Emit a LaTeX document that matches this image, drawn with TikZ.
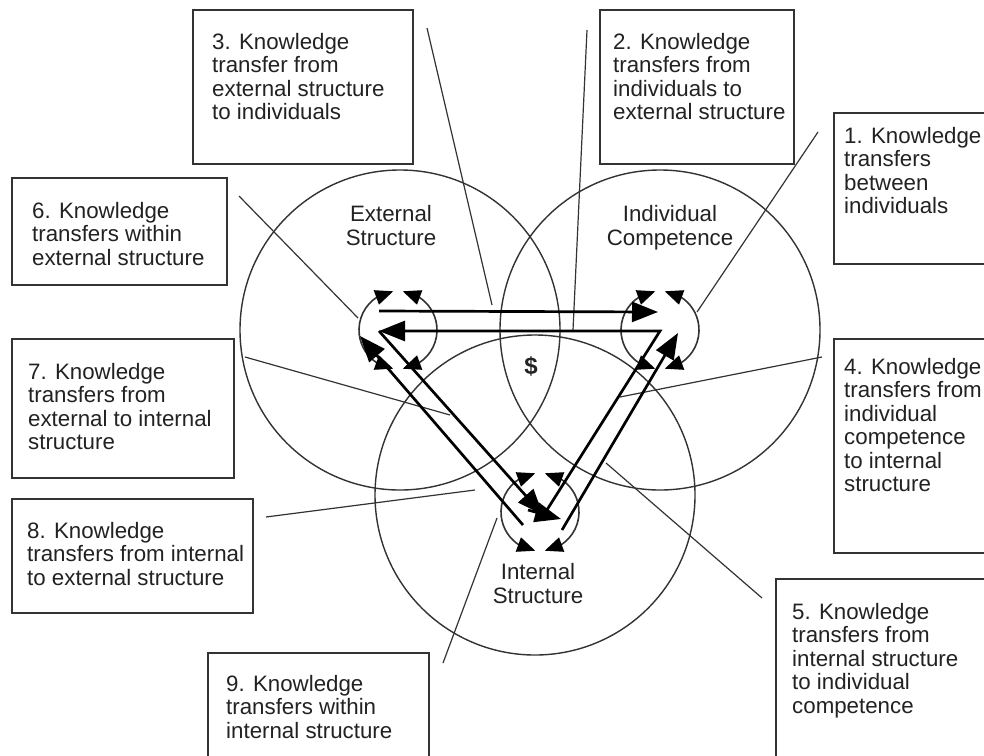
\documentclass[tikz,border=0pt]{standalone}
\usepackage{fontspec}
\setmainfont{Liberation Sans}
\usetikzlibrary{arrows.meta,bending}
\definecolor{ink}{HTML}{222222}
\definecolor{linec}{HTML}{333333}
\begin{document}
\begin{tikzpicture}[x=1pt,y=-1pt,
  box/.style={draw=linec, line width=1.5pt, inner sep=0pt, anchor=north west},
  txt/.style={anchor=north west, inner sep=0pt, align=left, text=ink, font=\fontsize{22.3}{23.5}\selectfont},
  clabel/.style={anchor=north, inner sep=0pt, align=center, text=ink, font=\fontsize{22.3}{24}\selectfont},
  big/.style={circle, draw=linec, line width=1.4pt, minimum size=320pt, inner sep=0pt},
  lead/.style={draw=linec, line width=1.2pt},
  bigarrow/.style={draw=black, line width=2.7pt, -{Triangle[length=26pt 0 0,width=20pt 0 0]}},
  cyc/.style={draw=linec, line width=1.6pt, {Triangle[length=18pt 0 0,width=15pt 0 0,color=black,fill=black]}-{Triangle[length=18pt 0 0,width=15pt 0 0,color=black,fill=black]}}
]
\useasboundingbox (0,0) rectangle (984,755);
\clip (0,0) rectangle (984,755);
\fill[white] (0,0) rectangle (984,755);

% big circles
\node[big] (E) at (400,330) {};
\node[big] (I) at (660,330) {};
\node[big] (N) at (535,495) {};

% circle labels
\node[clabel] (lE) at (391,205) {External\\Structure};
\node[clabel] (lI) at (670,205) {Individual\\Competence};
\node[clabel] (lN) at (538,563) {Internal\\Structure};
\node[inner sep=0pt, text=ink, font=\fontsize{24}{24}\selectfont\bfseries] (dollar) at (531,366) {\$};

% boxes
\node[box, minimum width=220pt, minimum height=154pt] (b3) at (192,9) {};
\node[box, minimum width=194pt, minimum height=154pt] (b2) at (599,9) {};
\node[box, minimum width=200pt, minimum height=151pt] (b1) at (833,112) {};
\node[box, minimum width=200pt, minimum height=214pt] (b4) at (833,338) {};
\node[box, minimum width=240pt, minimum height=220pt] (b5) at (775,578) {};
\node[box, minimum width=215pt, minimum height=107pt] (b6) at (11,177) {};
\node[box, minimum width=222pt, minimum height=139pt] (b7) at (11,338) {};
\node[box, minimum width=241pt, minimum height=114pt] (b8) at (11,498) {};
\node[box, minimum width=221pt, minimum height=150pt] (b9) at (207,652) {};

% box texts
\node[txt] (t1) at (844,127) {1. Knowledge\\transfers\\between\\individuals};
\node[txt] (t2) at (613,33) {2. Knowledge\\transfers from\\individuals to\\external structure};
\node[txt] (t3) at (212,33) {3. Knowledge\\transfer from\\external structure\\to individuals};
\node[txt] (t4) at (844,358) {4. Knowledge\\transfers from\\individual\\competence\\to internal\\structure};
\node[txt] (t5) at (792,603) {5. Knowledge\\transfers from\\internal structure\\to individual\\competence};
\node[txt] (t6) at (32,202) {6. Knowledge\\transfers within\\external structure};
\node[txt] (t7) at (28,363) {7. Knowledge\\transfers from\\external to internal\\structure};
\node[txt] (t8) at (27,522) {8. Knowledge\\transfers from internal\\to external structure};
\node[txt] (t9) at (226,675) {9. Knowledge\\transfers within\\internal structure};

% leader lines
\coordinate (c1a) at (818,132); \coordinate (c1b) at (697,312);
\coordinate (c2a) at (587,30);  \coordinate (c2b) at (573,330);
\coordinate (c3a) at (427,28);  \coordinate (c3b) at (492,305);
\coordinate (c4a) at (822,357); \coordinate (c4b) at (620,397);
\coordinate (c5a) at (762,598); \coordinate (c5b) at (606,463);
\coordinate (c6a) at (239,196); \coordinate (c6b) at (358,318);
\coordinate (c7a) at (245,357); \coordinate (c7b) at (450,415);
\coordinate (c8a) at (266,517); \coordinate (c8b) at (475,490);
\coordinate (c9a) at (443,663); \coordinate (c9b) at (497,518);
\foreach \k in {1,...,9} {\draw[lead] (c\k a) -- (c\k b);}

% small cycle circles
\coordinate (sE) at (398,330);
\coordinate (sI) at (660,330);
\coordinate (sN) at (540,512);
\foreach \c in {sE,sI,sN} {
  \draw[cyc] (\c) ++(97:39pt) arc[start angle=97, end angle=263, radius=39pt];
  \draw[cyc] (\c) ++(-83:39pt) arc[start angle=-83, end angle=83, radius=39pt];
}

% thick transfer arrows
\coordinate (eH1) at (379,311); \coordinate (iH1) at (658,312);
\coordinate (nC) at (545,513);  \coordinate (iC) at (660,331); \coordinate (eC) at (379,331);
\coordinate (nA) at (543,515);
\coordinate (nB) at (523,525);  \coordinate (eB) at (360,336);
\coordinate (nD) at (562,530);  \coordinate (iD) at (678,333);
\coordinate (nX1) at (528,510); \coordinate (nX2) at (561,519);
\draw[bigarrow] (eH1) -- (iH1);
\draw[bigarrow] (nC) -- (iC) -- (eC);
\draw[bigarrow] (eC) -- (nA);
\draw[bigarrow] (nB) -- (eB);
\draw[bigarrow] (nD) -- (iD);
\draw[bigarrow] (nX1) -- (nX2);
\end{tikzpicture}
\end{document}
